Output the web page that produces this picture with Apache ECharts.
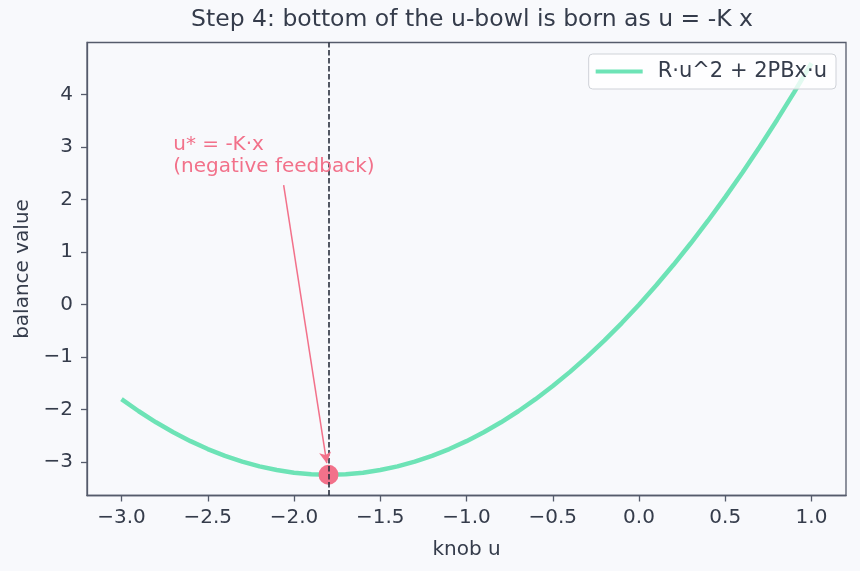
<!DOCTYPE html>
<html>
<head>
<meta charset="utf-8">
<script src="https://cdn.jsdelivr.net/npm/echarts@6/dist/echarts.min.js"></script>
<style>
html,body{margin:0;padding:0;background:#f8f9fc;}
#chart{width:860px;height:571px;}
</style>
</head>
<body>
<div id="chart"></div>
<script>
// ---- data ----
const titleText = 'Step 4: bottom of the u-bowl is born as u = -K x';
const seriesName = 'R·u^2 + 2PBx·u';
const uValues = [-3.0,-2.9,-2.8,-2.7,-2.6,-2.5,-2.4,-2.3,-2.2,-2.1,-2.0,-1.9,-1.8,-1.7,-1.6,-1.5,-1.4,-1.3,-1.2,-1.1,-1.0,-0.9,-0.8,-0.7,-0.6,-0.5,-0.4,-0.3,-0.2,-0.1,0.0,0.1,0.2,0.3,0.4,0.5,0.6,0.7,0.8,0.9,1.0];
const balanceValues = [-1.80,-2.03,-2.24,-2.43,-2.60,-2.75,-2.88,-2.99,-3.08,-3.15,-3.20,-3.23,-3.24,-3.23,-3.20,-3.15,-3.08,-2.99,-2.88,-2.75,-2.60,-2.43,-2.24,-2.03,-1.80,-1.55,-1.28,-0.99,-0.68,-0.35,0.00,0.37,0.76,1.17,1.60,2.05,2.52,3.01,3.52,4.05,4.60];
const optimumU = [-1.8];
const optimumValue = [-3.24];
const xTicks = [-3.0,-2.5,-2.0,-1.5,-1.0,-0.5,0.0,0.5,1.0];
const yTicks = [-3,-2,-1,0,1,2,3,4];
const xRange = [-3.2, 1.2];
const yRange = [-3.635, 4.995];
const annotationLines = ['u* = -K·x', '(negative feedback)'];
const annotationTextAt = [-2.7, 2.5];
const arrowFrom = [-2.06, 2.28];
const arrowTo = [-1.81, -3.02];
const xName = 'knob u';
const yName = 'balance value';

const FONT = 'DejaVu Sans';
const FS = 20;
const TXT = '#353c4b';
const AX = '#555b6b';
const MINT = '#6de3b6';
const PINK = '#f2718a';
const fmtMinus = v => String(v).replace('-', '\u2212');

const chart = echarts.init(document.getElementById('chart'), null, {renderer:'canvas'});
const option = {
  backgroundColor: '#f8f9fc',
  animation: false,
  textStyle: {fontFamily: FONT},
  title: {
    text: titleText, left: 467, top: 3, textAlign: 'center',
    textStyle: {fontFamily: FONT, fontSize: 23.5, fontWeight: 'normal', color: TXT}
  },
  grid: {left: 87, right: 14, top: 42.5, bottom: 75.5, containLabel: false, outerBoundsMode: 'none',
    show: true, borderColor: AX, borderWidth: 1.3, backgroundColor: 'transparent'},
  legend: {
    right: 24, top: 54,
    data: [{name: seriesName, icon: 'rect'}],
    itemWidth: 47, itemHeight: 4,
    padding: [7, 9, 7, 7],
    backgroundColor: 'rgba(255,255,255,0.8)',
    borderColor: '#cfd2d8', borderWidth: 1, borderRadius: 4,
    textStyle: {fontFamily: FONT, fontSize: 21, color: TXT, padding: [0, 0, 0, 10]}
  },
  xAxis: {
    type: 'value', min: xRange[0], max: xRange[1],
    name: xName, nameLocation: 'middle', nameGap: 44,
    nameTextStyle: {fontFamily: FONT, fontSize: FS, color: TXT},
    axisLine: {show: true, onZero: false, lineStyle: {color: AX, width: 1.3}},
    axisTick: {show: true, length: 6, inside: false, customValues: xTicks, lineStyle: {color: AX, width: 1.3}},
    axisLabel: {customValues: xTicks, margin: 12, fontFamily: FONT, fontSize: FS, color: TXT,
      formatter: v => fmtMinus(Number(v).toFixed(1))},
    splitLine: {show: false}
  },
  yAxis: {
    type: 'value', min: yRange[0], max: yRange[1],
    name: yName, nameLocation: 'middle', nameGap: 54, nameRotate: 90,
    nameTextStyle: {fontFamily: FONT, fontSize: FS, color: TXT},
    axisLine: {show: true, onZero: false, lineStyle: {color: AX, width: 1.3}},
    axisTick: {show: true, length: 6, inside: false, customValues: yTicks, lineStyle: {color: AX, width: 1.3}},
    axisLabel: {customValues: yTicks, margin: 14, fontFamily: FONT, fontSize: FS, color: TXT,
      formatter: v => fmtMinus(Math.round(v))},
    splitLine: {show: false}
  },
  series: [
    {
      name: seriesName, type: 'line', showSymbol: false, z: 2,
      data: uValues.map((u, i) => [u, balanceValues[i]]),
      lineStyle: {color: MINT, width: 4.5}, itemStyle: {color: MINT},
      emphasis: {disabled: true}
    },
    {
      name: 'optimum', type: 'scatter', z: 3,
      data: optimumU.map((u, i) => [u, optimumValue[i]]),
      symbol: 'circle', symbolSize: 20, itemStyle: {color: PINK, opacity: 1},
      emphasis: {disabled: true}
    },
    {
      name: 'vline', type: 'line', data: [], z: 4,
      markLine: {
        silent: true, symbol: ['none', 'none'], animation: false,
        label: {show: false},
        lineStyle: {color: '#2a303e', width: 1.6, type: [5.5, 2.5]},
        data: [{xAxis: optimumU[0]}]
      }
    },
    {
      name: 'arrow', type: 'line', data: [], z: 5,
      markLine: {
        silent: true, symbol: ['none', 'arrow'], symbolSize: [9, 11], animation: false,
        label: {show: false},
        lineStyle: {color: PINK, width: 1.5, type: 'solid'},
        data: [[{coord: arrowFrom}, {coord: arrowTo}]]
      }
    }
  ]
};
chart.setOption(option);

const p = chart.convertToPixel({gridIndex: 0}, annotationTextAt);
chart.setOption({
  graphic: [{
    type: 'text', left: p[0], top: p[1] - 39, z: 10,
    style: {
      text: annotationLines.join('\n'),
      fontFamily: FONT, fontSize: FS, lineHeight: 21.5,
      fill: PINK, textAlign: 'left'
    }
  }]
});
</script>
</body>
</html>
